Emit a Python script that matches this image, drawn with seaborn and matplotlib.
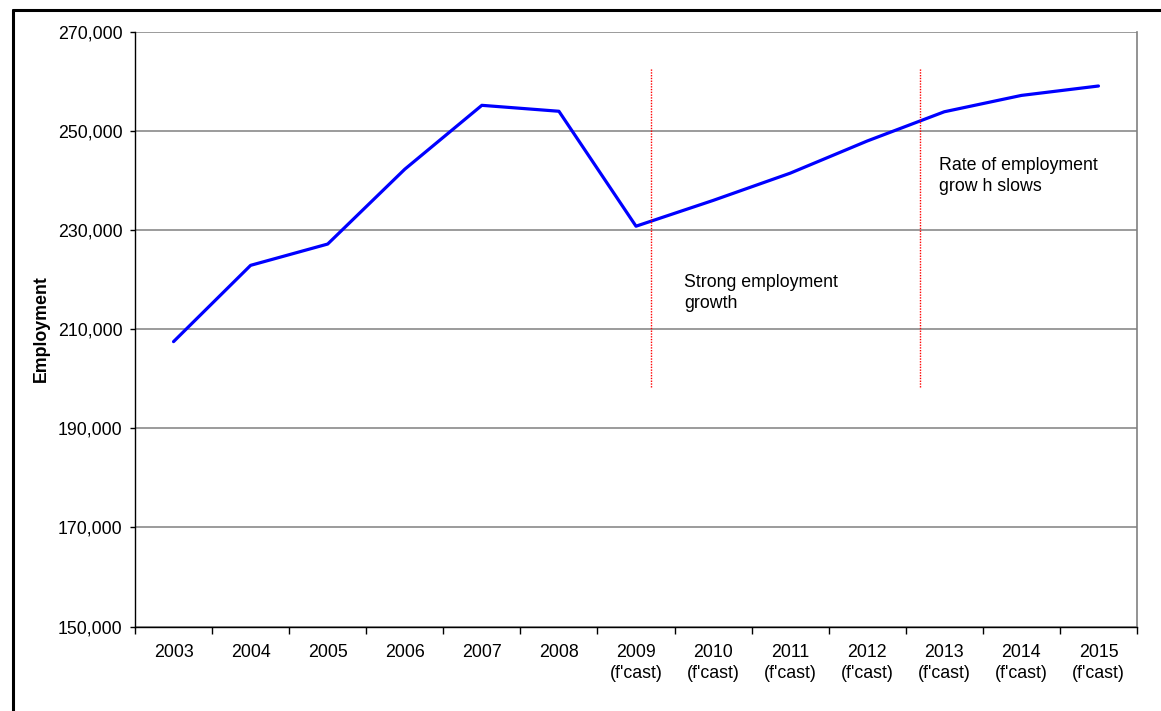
import matplotlib
matplotlib.use("Agg")
import matplotlib.pyplot as plt
from matplotlib.lines import Line2D
import seaborn as sns
import pandas as pd

years = ["2003", "2004", "2005", "2006", "2007", "2008",
         "2009\n(f'cast)", "2010\n(f'cast)", "2011\n(f'cast)", "2012\n(f'cast)",
         "2013\n(f'cast)", "2014\n(f'cast)", "2015\n(f'cast)"]
employment = [207500, 222900, 227200, 242300, 255200, 254000,
              230800, 236000, 241500, 248000, 253900, 257200, 259100]
y_ticks = [150000, 170000, 190000, 210000, 230000, 250000, 270000]
phase_x = [6.2, 9.68]
phase_y = [198300, 262700]
notes = ["Strong employment\ngrowth", "Rate of employment\ngrow h slows"]
note_pos = [(6.62, 221100), (9.93, 244800)]

sns.set_style("white")
plt.rcParams['font.family'] = ['Liberation Sans', 'DejaVu Sans']
plt.rcParams['text.color'] = 'black'
plt.rcParams['xtick.color'] = 'black'
plt.rcParams['ytick.color'] = 'black'
plt.rcParams['xtick.labelcolor'] = 'black'
plt.rcParams['ytick.labelcolor'] = 'black'

FS = 12.8

df = pd.DataFrame({"idx": list(range(len(years))), "Employment": employment})

fig = plt.figure(figsize=(11.61, 7.11), dpi=100)
ax = fig.add_axes([135/1161, 1-626.5/711, (1137-135)/1161, (626.5-32)/711])

sns.lineplot(data=df, x="idx", y="Employment", ax=ax, color="#0000FF", linewidth=2.3)

ax.set_xlim(-0.5, len(years) - 0.5)
ax.set_ylim(150000, 270000)

# gridlines
ax.set_yticks(y_ticks)
ax.set_yticklabels([f"{v:,}" for v in y_ticks], fontsize=FS)
ax.yaxis.grid(True, color="#808080", linewidth=1.1)
ax.set_axisbelow(True)

# x: boundaries as major ticks, labels at centers
ax.set_xticks([i - 0.5 for i in range(len(years) + 1)])
ax.set_xticklabels([])
ax.set_xticks(list(range(len(years))), minor=True)
ax.set_xticklabels(years, minor=True, fontsize=FS, linespacing=1.32)
ax.tick_params(axis="x", which="major", direction="out", length=5, width=1, color="black", bottom=True)
ax.tick_params(axis="x", which="minor", length=0, pad=12.5)
ax.tick_params(axis="y", direction="out", length=3.5, width=1, color="black", left=True, pad=5.5)

for side in ["left", "bottom"]:
    ax.spines[side].set_color("black")
    ax.spines[side].set_linewidth(1)
ax.spines["right"].set_color("#808080")
ax.spines["right"].set_linewidth(1.2)
ax.spines["top"].set_visible(False)

ax.set_xlabel("")
ax.set_ylabel("")
fig.text(41.5/1161, 1-329/711, "Employment", rotation=90, fontsize=FS,
         fontweight="bold", ha="center", va="center", color="black")

for px in phase_x:
    ax.plot([px, px], phase_y, color="red", linestyle=(0, (1, 1)), linewidth=1)

for t, (tx, ty) in zip(notes, note_pos):
    ax.text(tx, ty, t, fontsize=FS, ha="left", va="top", linespacing=1.32, color="black")

# outer chart border (left and top)
fig.add_artist(Line2D([13/1161, 13/1161], [0, 1-10/711], color="black", linewidth=2.2,
                      transform=fig.transFigure))
fig.add_artist(Line2D([13/1161, 1], [1-10/711, 1-10/711], color="black", linewidth=2.2,
                      transform=fig.transFigure))

fig.savefig("out.png", dpi=100)
